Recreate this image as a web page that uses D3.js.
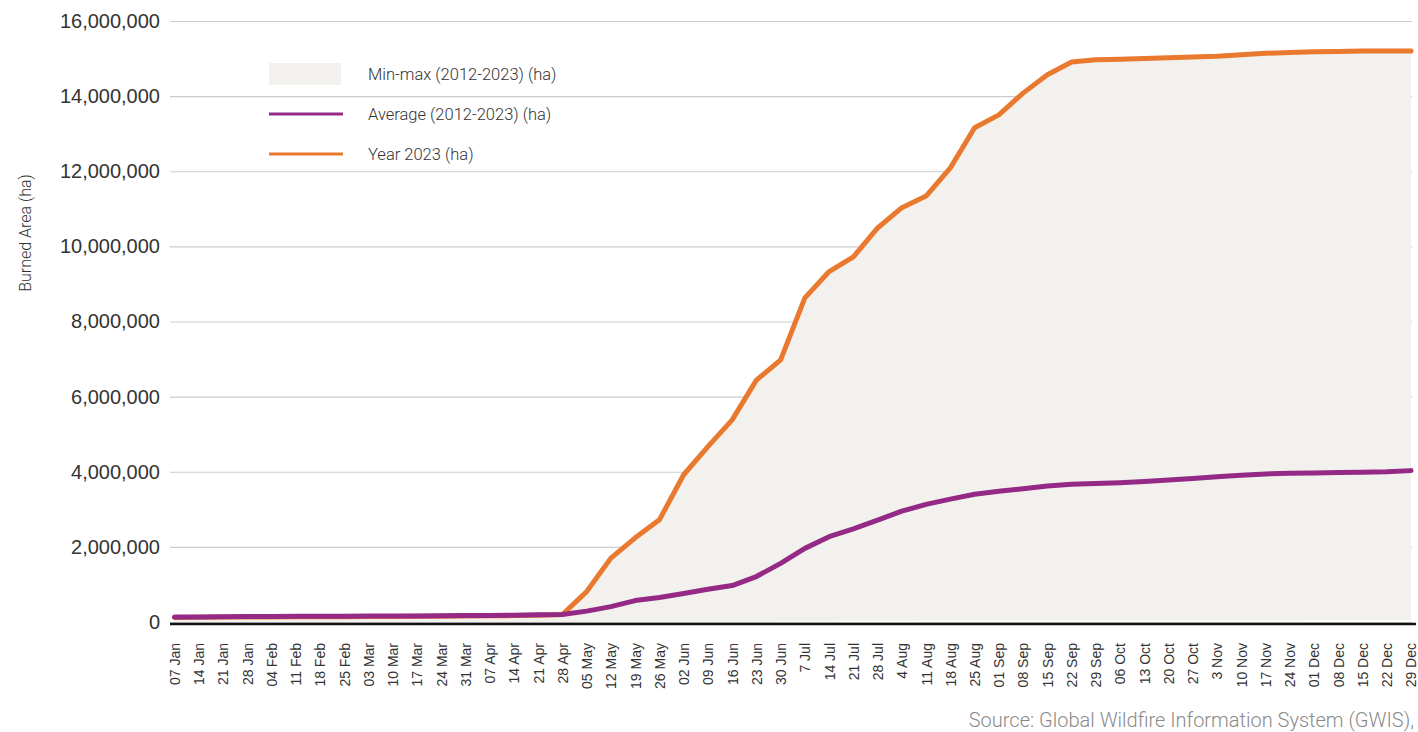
<!DOCTYPE html>
<html>
<head>
<meta charset="utf-8">
<script src="https://cdn.jsdelivr.net/npm/d3@7"></script>
<style>
  html, body { margin: 0; padding: 0; background: #ffffff; }
  svg { display: block; font-family: Roboto, "Noto Sans", sans-serif; }
</style>
</head>
<body>
<svg id="chart" width="1418" height="732"></svg>
<script>
// Weekly cumulative burned area, week ending dates
const weeks = [
  "07 Jan","14 Jan","21 Jan","28 Jan","04 Feb","11 Feb","18 Feb","25 Feb",
  "03 Mar","10 Mar","17 Mar","24 Mar","31 Mar","07 Apr","14 Apr","21 Apr","28 Apr",
  "05 May","12 May","19 May","26 May","02 Jun","09 Jun","16 Jun","23 Jun","30 Jun",
  "7 Jul","14 Jul","21 Jul","28 Jul","4 Aug","11 Aug","18 Aug","25 Aug",
  "01 Sep","08 Sep","15 Sep","22 Sep","29 Sep","06 Oct","13 Oct","20 Oct","27 Oct",
  "3 Nov","10 Nov","17 Nov","24 Nov","01 Dec","08 Dec","15 Dec","22 Dec","29 Dec"
];

// Year 2023 (ha)
const year2023 = [
  120000,125000,130000,132000,135000,138000,140000,142000,
  145000,148000,150000,155000,160000,165000,170000,180000,200000,
  810000,1700000,2240000,2720000,3920000,4670000,5380000,6440000,6980000,
  8630000,9330000,9720000,10490000,11030000,11340000,12090000,13160000,
  13500000,14080000,14570000,14910000,14970000,14980000,15000000,15020000,15040000,
  15060000,15100000,15140000,15160000,15180000,15190000,15200000,15200000,15200000
];

// Average 2012-2023 (ha)
const average = [
  130000,135000,140000,145000,148000,150000,152000,155000,
  158000,160000,163000,166000,170000,175000,180000,190000,200000,
  290000,410000,570000,650000,760000,870000,970000,1210000,1560000,
  1960000,2270000,2480000,2710000,2950000,3130000,3270000,3400000,
  3480000,3550000,3620000,3670000,3690000,3710000,3740000,3780000,3820000,
  3870000,3910000,3940000,3960000,3970000,3980000,3990000,4000000,4030000
];

// Minimum of 2012-2023 (ha), lower edge of the min-max band
const minimum = [
  0,0,0,0,0,0,0,0,
  0,0,0,0,0,0,0,0,1000,
  2000,4000,6000,8000,10000,12000,14000,16000,18000,
  20000,22000,24000,26000,28000,30000,32000,34000,
  35000,36000,37000,38000,39000,40000,40000,41000,41000,
  42000,42000,43000,43000,44000,44000,45000,45000,45000
];

const yTicks = [0,2000000,4000000,6000000,8000000,10000000,12000000,14000000,16000000];

const legendItems = [
  { label: "Min-max (2012-2023) (ha)", kind: "area" },
  { label: "Average (2012-2023) (ha)", kind: "avg" },
  { label: "Year 2023 (ha)", kind: "year" }
];

const COLORS = { area: "#f2f1ee", avg: "#952a86", year: "#e9792f", grid: "#cccccc", text: "#333333" };

const svg = d3.select("#chart");

const x = d3.scalePoint().domain(weeks).range([174.5, 1411]);
const y = d3.scaleLinear().domain([0, 16000000]).range([622, 21]);

const fmt = d3.format(",");

// Grid lines + y-axis labels
const yAxis = d3.axisLeft(y)
  .tickValues(yTicks)
  .tickFormat(fmt)
  .tickSize(-(1412 - 170))
  .tickPadding(10);

const gy = svg.append("g")
  .attr("transform", "translate(170,0)")
  .call(yAxis);
gy.select(".domain").remove();
gy.selectAll(".tick line").attr("stroke", COLORS.grid).attr("stroke-width", 1.2);
gy.selectAll(".tick text")
  .attr("fill", COLORS.text)
  .attr("font-size", 20)
  .attr("font-weight", 300)
  .attr("x", -10);

// Min-max band
const rows = weeks.map((w, i) => ({ w, lo: minimum[i], hi: year2023[i], avg: average[i], yr: year2023[i] }));

svg.append("path")
  .datum(rows)
  .attr("fill", COLORS.area)
  .attr("d", d3.area().x(d => x(d.w)).y0(d => y(d.lo)).y1(d => y(d.hi)));

// Baseline
svg.append("line")
  .attr("x1", 170).attr("x2", 1416)
  .attr("y1", 624).attr("y2", 624)
  .attr("stroke", "#111").attr("stroke-width", 2.5);

// Lines
const line = acc => d3.line().x(d => x(d.w)).y(d => y(acc(d)));

svg.append("path")
  .datum(rows)
  .attr("fill", "none")
  .attr("stroke", COLORS.year)
  .attr("stroke-width", 5)
  .attr("stroke-linejoin", "round")
  .attr("stroke-linecap", "round")
  .attr("d", line(d => d.yr));

svg.append("path")
  .datum(rows)
  .attr("fill", "none")
  .attr("stroke", COLORS.avg)
  .attr("stroke-width", 5)
  .attr("stroke-linejoin", "round")
  .attr("stroke-linecap", "round")
  .attr("d", line(d => d.avg));

// X-axis labels
const xAxis = d3.axisBottom(x).tickSize(0).tickPadding(0);
const gx = svg.append("g")
  .attr("transform", "translate(0,643)")
  .call(xAxis);
gx.select(".domain").remove();
gx.selectAll(".tick text")
  .attr("fill", COLORS.text)
  .attr("font-size", 14)
  .attr("font-weight", 300)
  .attr("text-anchor", "end")
  .attr("transform", "rotate(-90)")
  .attr("x", 0)
  .attr("y", 0)
  .attr("dy", "0.35em");

// Y-axis title
svg.append("text")
  .attr("transform", "translate(25,233) rotate(-90)")
  .attr("text-anchor", "middle")
  .attr("dy", "0.35em")
  .attr("fill", COLORS.text)
  .attr("font-size", 16)
  .attr("font-weight", 300)
  .text("Burned Area (ha)");

// Legend
const lg = svg.append("g");
legendItems.forEach((it, i) => {
  const cy = 74 + i * 40;
  if (it.kind === "area") {
    lg.append("rect").attr("x", 269).attr("y", cy - 11).attr("width", 72).attr("height", 22).attr("fill", COLORS.area);
  } else {
    lg.append("line").attr("x1", 269).attr("x2", 343).attr("y1", cy).attr("y2", cy)
      .attr("stroke", COLORS[it.kind]).attr("stroke-width", 3);
  }
  lg.append("text")
    .attr("x", 368).attr("y", cy)
    .attr("dy", "0.35em")
    .attr("fill", COLORS.text)
    .attr("font-size", 16.5)
    .attr("font-weight", 300)
    .text(it.label);
});

// Source note
svg.append("text")
  .attr("x", 1414).attr("y", 720)
  .attr("text-anchor", "end")
  .attr("dy", "0.35em")
  .attr("fill", "#8a8a8a")
  .attr("font-size", 20)
  .attr("font-weight", 300)
  .text("Source: Global Wildfire Information System (GWIS),");
</script>
</body>
</html>
